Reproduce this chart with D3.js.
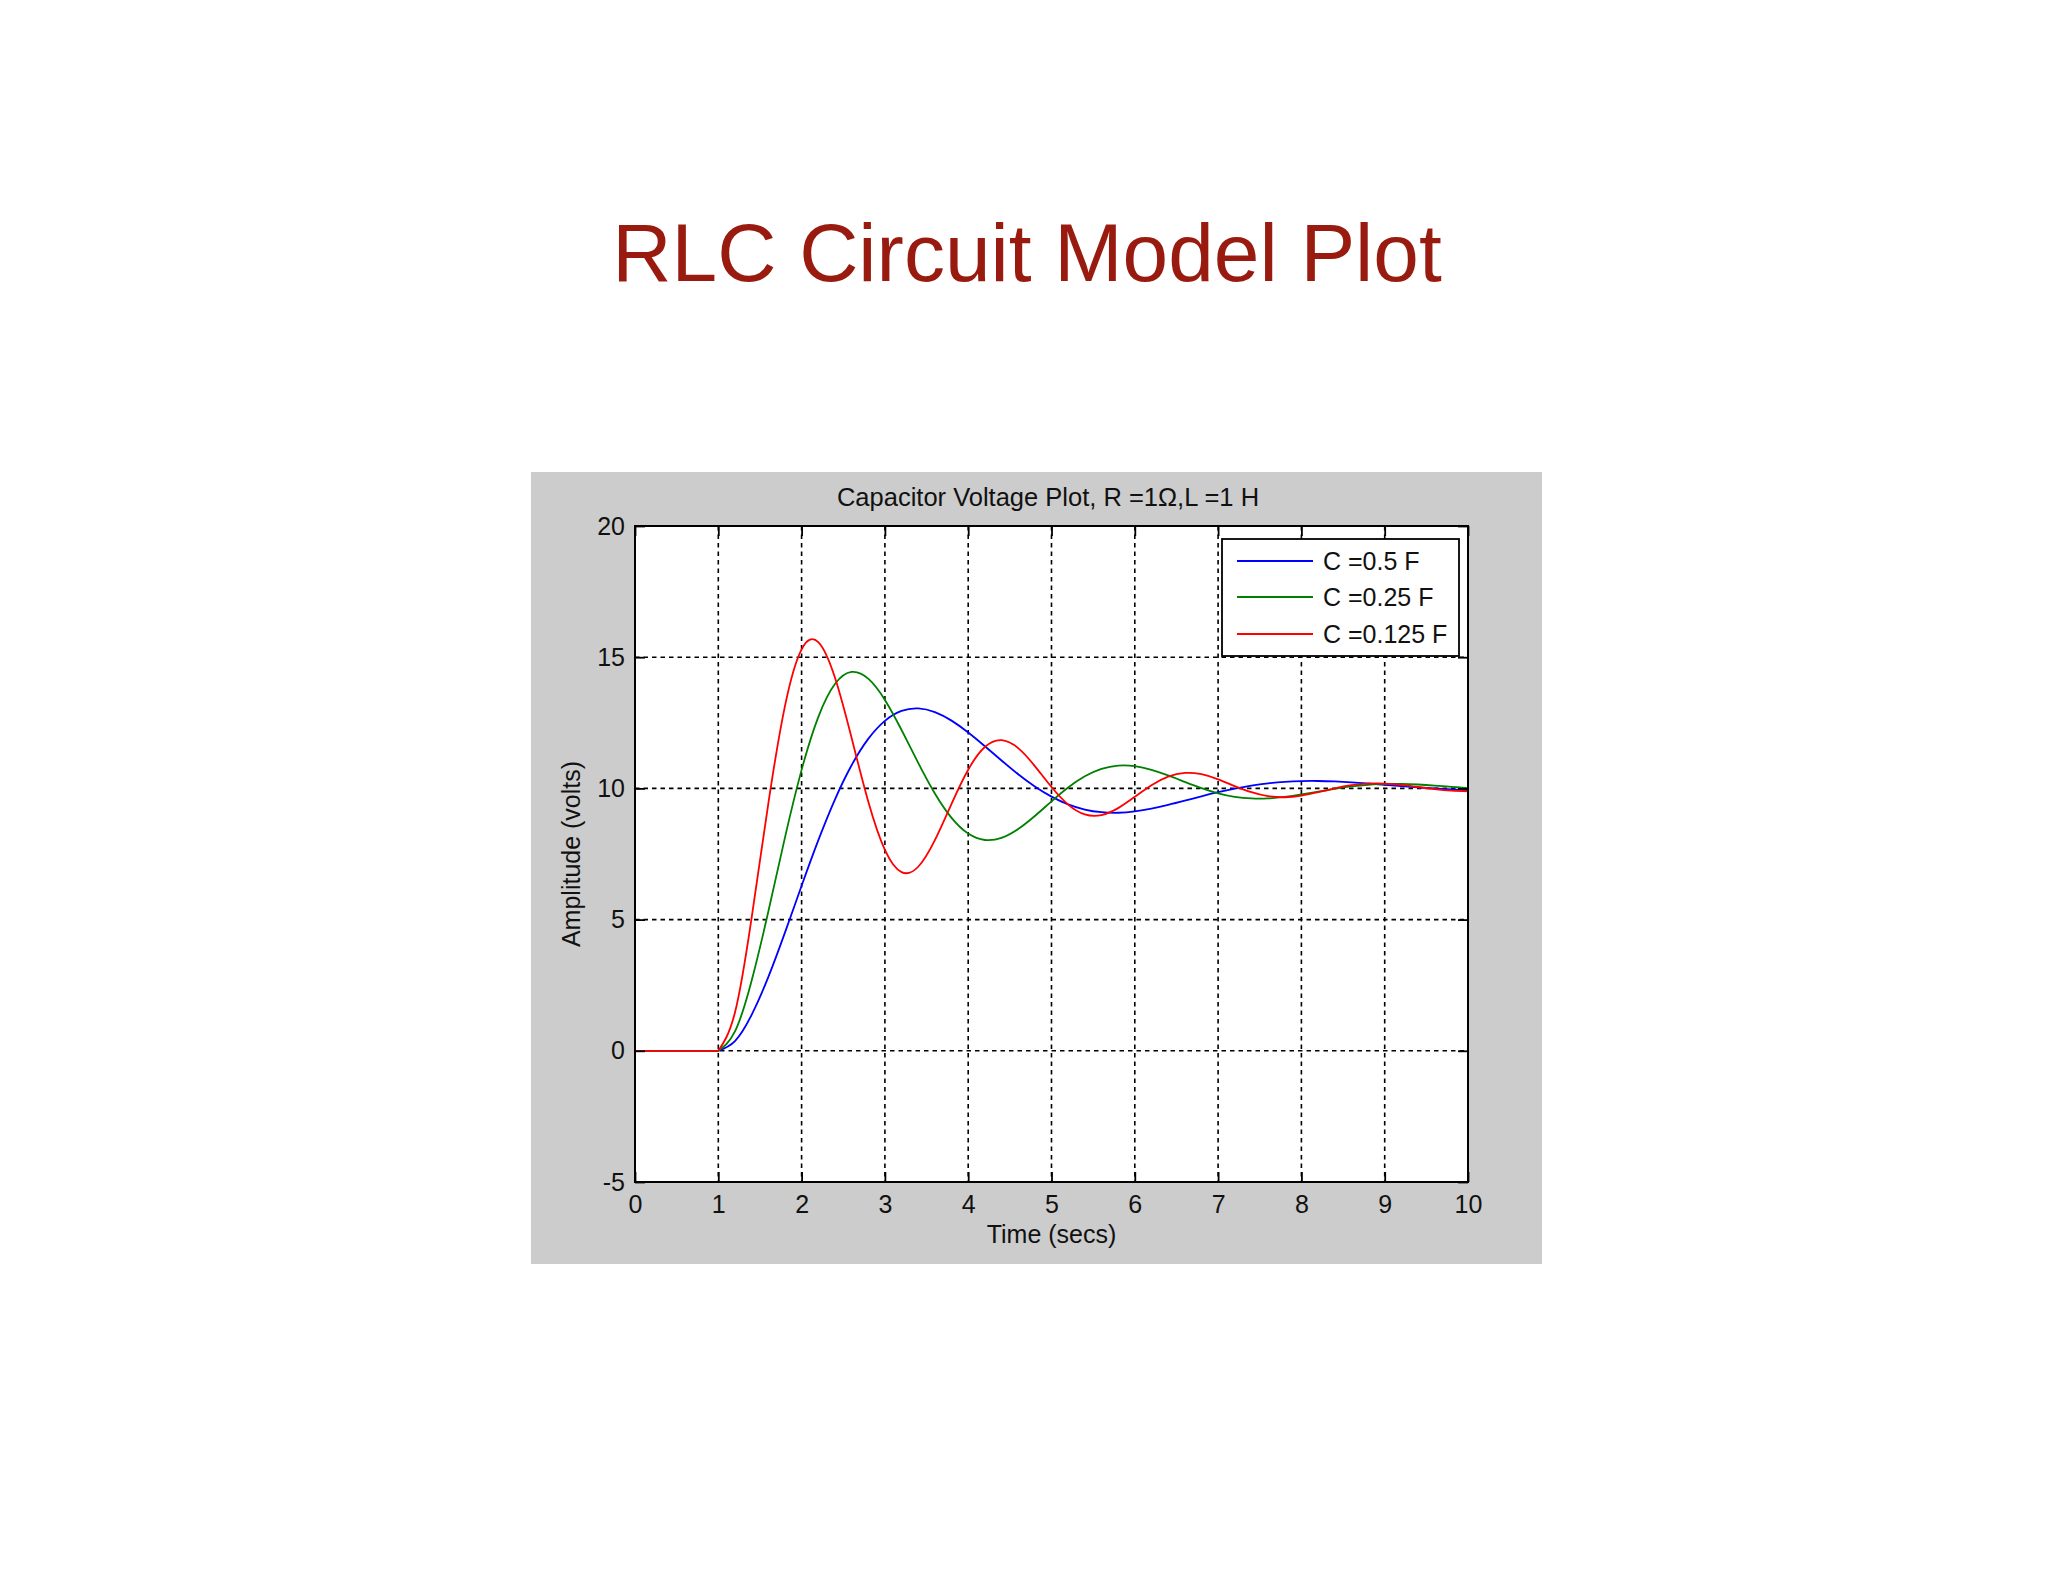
<!DOCTYPE html>
<html>
<head>
<meta charset="utf-8">
<script src="https://cdn.jsdelivr.net/npm/d3@7"></script>
<style>
  html, body { margin: 0; padding: 0; background: #ffffff; }
  svg { display: block; }
  text { font-family: "Liberation Sans", Arial, sans-serif; }
</style>
</head>
<body>
<svg id="chart" width="2048" height="1582"></svg>
<script>
// ---------- data ----------
const pageTitle = "RLC Circuit Model Plot";
const axesTitle = "Capacitor Voltage Plot, R =1\u03A9,L =1 H";
const xLabel = "Time (secs)";
const yLabel = "Amplitude (volts)";

const seriesNames = ["C =0.5 F", "C =0.25 F", "C =0.125 F"];
const seriesColors = ["#0000ff", "#008000", "#ff0000"];

const xTicks = [0, 1, 2, 3, 4, 5, 6, 7, 8, 9, 10];
const yTicks = [-5, 0, 5, 10, 15, 20];
const xGrid = [1, 2, 3, 4, 5, 6, 7, 8, 9];
const yGrid = [0, 5, 10, 15];

const time = [0, 1.0, 1.2, 1.4, 1.6, 1.8, 2.0, 2.2, 2.4, 2.6, 2.8, 3.0, 3.2, 3.4, 3.6, 3.8,
  4.0, 4.2, 4.4, 4.6, 4.8, 5.0, 5.2, 5.4, 5.6, 5.8, 6.0, 6.2, 6.4, 6.6, 6.8, 7.0,
  7.2, 7.4, 7.6, 7.8, 8.0, 8.2, 8.4, 8.6, 8.8, 9.0, 9.2, 9.4, 9.6, 9.8, 10.0];

const vC050 = [0, 0, 0.372, 1.370, 2.809, 4.505, 6.289, 8.017, 9.575, 10.881, 11.887, 12.574,
  12.952, 13.048, 12.908, 12.583, 12.131, 11.608, 11.064, 10.541, 10.075, 9.687, 9.393,
  9.195, 9.092, 9.072, 9.123, 9.228, 9.369, 9.530, 9.696, 9.854, 9.993, 10.108, 10.194,
  10.251, 10.279, 10.282, 10.264, 10.231, 10.186, 10.137, 10.086, 10.039, 9.997, 9.963, 9.938];

const vC025 = [0, 0, 0.739, 2.670, 5.299, 8.125, 10.706, 12.719, 13.978, 14.439, 14.181, 13.372,
  12.227, 10.971, 9.804, 8.876, 8.277, 8.034, 8.115, 8.452, 8.949, 9.507, 10.034, 10.460,
  10.744, 10.869, 10.848, 10.709, 10.494, 10.247, 10.009, 9.814, 9.680, 9.617, 9.619,
  9.676, 9.769, 9.878, 9.985, 10.074, 10.137, 10.169, 10.171, 10.148, 10.108, 10.060, 10.012];

const vC0125 = [0, 0, 1.459, 5.066, 9.412, 13.136, 15.300, 15.575, 14.225, 11.928, 9.502, 7.657,
  6.808, 7.014, 8.026, 9.412, 10.713, 11.577, 11.839, 11.534, 10.851, 10.052, 9.383, 9.009,
  8.983, 9.249, 9.679, 10.121, 10.449, 10.591, 10.540, 10.346, 10.089, 9.854, 9.703, 9.663,
  9.725, 9.854, 10.001, 10.121, 10.185, 10.185, 10.133, 10.053, 9.972, 9.914, 9.891];

const seriesValues = [vC050, vC025, vC0125];

// ---------- layout ----------
const svg = d3.select("#chart");
const panel = { x: 531, y: 472, w: 1011, h: 792 };
const plot = { left: 635, right: 1468, top: 526, bottom: 1182 };

const x = d3.scaleLinear().domain([0, 10]).range([plot.left, plot.right]);
const y = d3.scaleLinear().domain([-5, 20]).range([plot.bottom, plot.top]);

// page title
svg.append("text")
  .attr("x", 1027).attr("y", 281)
  .attr("text-anchor", "middle")
  .attr("font-size", 82)
  .attr("fill", "#991b0f")
  .text(pageTitle);

// grey figure panel
svg.append("rect")
  .attr("x", panel.x).attr("y", panel.y)
  .attr("width", panel.w).attr("height", panel.h)
  .attr("fill", "#cccccc");

// white axes area
svg.append("rect")
  .attr("x", plot.left).attr("y", plot.top)
  .attr("width", plot.right - plot.left).attr("height", plot.bottom - plot.top)
  .attr("fill", "#ffffff");

// grid
const grid = svg.append("g")
  .attr("stroke", "#000").attr("stroke-width", 1.6)
  .attr("stroke-dasharray", "4.5,4");
grid.selectAll("line.gx").data(xGrid).join("line")
  .attr("class", "gx")
  .attr("x1", d => x(d)).attr("x2", d => x(d))
  .attr("y1", plot.top).attr("y2", plot.bottom);
grid.selectAll("line.gy").data(yGrid).join("line")
  .attr("class", "gy")
  .attr("x1", plot.left).attr("x2", plot.right)
  .attr("y1", d => y(d)).attr("y2", d => y(d));

// clip
svg.append("clipPath").attr("id", "clip")
  .append("rect")
  .attr("x", plot.left).attr("y", plot.top)
  .attr("width", plot.right - plot.left).attr("height", plot.bottom - plot.top);

// curves
const flatLine = d3.line().x(d => x(d[0])).y(d => y(d[1]));
const smoothLine = d3.line().x(d => x(d[0])).y(d => y(d[1])).curve(d3.curveNatural);

const curves = svg.append("g").attr("clip-path", "url(#clip)");
seriesValues.forEach((vals, i) => {
  const pts = time.map((t, j) => [t, vals[j]]);
  const flat = pts.filter(p => p[0] <= 1);
  const rise = pts.filter(p => p[0] >= 1);
  curves.append("path")
    .attr("d", flatLine(flat) + smoothLine(rise))
    .attr("fill", "none")
    .attr("stroke", seriesColors[i])
    .attr("stroke-width", 1.8)
    .attr("stroke-linejoin", "round");
});

// axes
const fontSize = 25;
const plainFmt = d => String(d);
const axB = svg.append("g").attr("transform", `translate(0,${plot.bottom})`)
  .call(d3.axisBottom(x).tickValues(xTicks).tickFormat(plainFmt).tickSize(-10).tickPadding(13));
const axL = svg.append("g").attr("transform", `translate(${plot.left},0)`)
  .call(d3.axisLeft(y).tickValues(yTicks).tickFormat(plainFmt).tickSize(-10).tickPadding(10));
const axT = svg.append("g").attr("transform", `translate(0,${plot.top})`)
  .call(d3.axisTop(x).tickValues(xTicks).tickFormat("").tickSize(-10));
const axR = svg.append("g").attr("transform", `translate(${plot.right},0)`)
  .call(d3.axisRight(y).tickValues(yTicks).tickFormat("").tickSize(-10));

[axB, axL, axT, axR].forEach(g => {
  g.select(".domain").remove();
  g.selectAll(".tick line").attr("stroke", "#000").attr("stroke-width", 1.8);
  g.selectAll(".tick text")
    .attr("font-size", fontSize)
    .attr("font-family", "'Liberation Sans', Arial, sans-serif")
    .attr("fill", "#111");
});

// axes box
svg.append("rect")
  .attr("x", plot.left).attr("y", plot.top)
  .attr("width", plot.right - plot.left).attr("height", plot.bottom - plot.top)
  .attr("fill", "none").attr("stroke", "#000").attr("stroke-width", 2);

// axes title and labels
svg.append("text")
  .attr("x", 1048).attr("y", 506)
  .attr("text-anchor", "middle").attr("font-size", 25.5).attr("fill", "#111")
  .text(axesTitle);

svg.append("text")
  .attr("x", (plot.left + plot.right) / 2).attr("y", 1243)
  .attr("text-anchor", "middle").attr("font-size", 25).attr("fill", "#111")
  .text(xLabel);

svg.append("text")
  .attr("transform", `translate(580,${(plot.top + plot.bottom) / 2}) rotate(-90)`)
  .attr("text-anchor", "middle").attr("font-size", 25).attr("fill", "#111")
  .text(yLabel);

// legend
const legend = svg.append("g");
legend.append("rect")
  .attr("x", 1222).attr("y", 539).attr("width", 237).attr("height", 117)
  .attr("fill", "#ffffff").attr("stroke", "#000").attr("stroke-width", 1.8);
const rowY = [561, 597, 634];
seriesNames.forEach((name, i) => {
  legend.append("line")
    .attr("x1", 1237).attr("x2", 1313)
    .attr("y1", rowY[i]).attr("y2", rowY[i])
    .attr("stroke", seriesColors[i]).attr("stroke-width", 1.8);
  legend.append("text")
    .attr("x", 1323).attr("y", rowY[i] + 9)
    .attr("font-size", 25).attr("fill", "#111")
    .text(name);
});
</script>
</body>
</html>
